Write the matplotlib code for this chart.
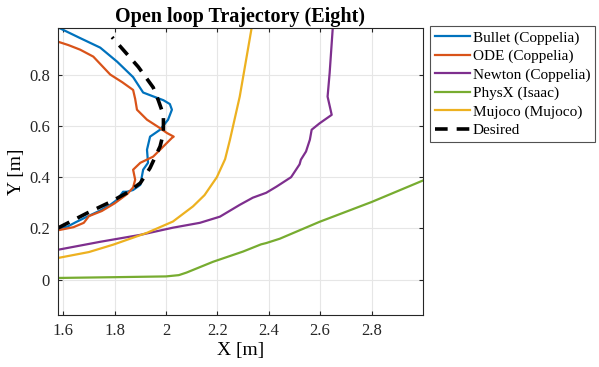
import numpy as np
import matplotlib
matplotlib.use("Agg")
import matplotlib.pyplot as plt

plt.rcParams['font.family'] = ['Liberation Serif', 'DejaVu Serif']

# Bullet (Coppelia)
bullet_x = [1.58, 1.616, 1.65, 1.693, 1.74, 1.783, 1.81, 1.833, 1.848, 1.872, 1.90, 1.911,
            1.93, 1.926, 1.938, 1.977, 2.008, 2.023, 2.015, 1.99, 1.95, 1.911, 1.872,
            1.81, 1.744, 1.66, 1.588]
bullet_y = [0.200, 0.207, 0.225, 0.246, 0.268, 0.292, 0.312, 0.343, 0.343, 0.350, 0.37, 0.429,
            0.456, 0.507, 0.558, 0.585, 0.624, 0.663, 0.685, 0.70, 0.715, 0.73, 0.79,
            0.85, 0.905, 0.945, 0.98]

# ODE (Coppelia)
ode_x = [1.58, 1.64, 1.68, 1.70, 1.75, 1.80, 1.85, 1.872, 1.88, 1.872, 1.9, 1.95, 1.99,
         2.023, 2.03, 2.004, 1.977, 1.926, 1.887, 1.88, 1.872, 1.83, 1.783, 1.717,
         1.666, 1.62, 1.58]
ode_y = [0.193, 0.205, 0.222, 0.248, 0.268, 0.298, 0.335, 0.360, 0.39, 0.429, 0.456, 0.48, 0.52,
         0.553, 0.558, 0.572, 0.591, 0.624, 0.663, 0.705, 0.74, 0.77, 0.80, 0.87,
         0.897, 0.915, 0.928]

# Newton (Coppelia)
newton_x = [1.58, 1.744, 1.9, 2.027, 2.132, 2.21, 2.287, 2.338, 2.39, 2.43, 2.487, 2.52,
            2.525, 2.545, 2.56, 2.567, 2.598, 2.645, 2.629, 2.637, 2.649]
newton_y = [0.117, 0.148, 0.175, 0.203, 0.222, 0.246, 0.292, 0.320, 0.339, 0.363, 0.40, 0.45,
            0.468, 0.50, 0.546, 0.585, 0.61, 0.643, 0.714, 0.806, 0.98]

# PhysX (Isaac)
physx_x = [1.58, 1.8, 2.0, 2.05, 2.08, 2.183, 2.3, 2.37, 2.39, 2.443, 2.598, 2.8, 2.998]
physx_y = [0.007, 0.010, 0.013, 0.018, 0.028, 0.07, 0.11, 0.138, 0.143, 0.16, 0.226, 0.303, 0.386]

# Mujoco (Mujoco)
mujoco_x = [1.58, 1.7, 1.795, 1.926, 2.027, 2.105, 2.15, 2.198, 2.23, 2.249, 2.287, 2.314, 2.333]
mujoco_y = [0.085, 0.108, 0.137, 0.183, 0.227, 0.286, 0.33, 0.40, 0.47, 0.546, 0.714, 0.87, 0.98]

# Desired
desired_x = [1.58, 1.693, 1.783, 1.85, 1.90, 1.938, 1.977, 1.99, 1.99, 1.97, 1.95, 1.892, 1.79]
desired_y = [0.202, 0.26, 0.303, 0.34, 0.377, 0.436, 0.52, 0.572, 0.643, 0.70, 0.75, 0.83, 0.946]

fig = plt.figure(figsize=(5.99, 3.67), dpi=100)
ax = fig.add_axes([0.097, 0.142, 0.609, 0.782])

ax.plot(bullet_x, bullet_y, color='#0072BD', lw=1.6, label='Bullet (Coppelia)')
ax.plot(ode_x, ode_y, color='#D95319', lw=1.6, label='ODE (Coppelia)')
ax.plot(newton_x, newton_y, color='#7E2F8E', lw=1.6, label='Newton (Coppelia)')
ax.plot(physx_x, physx_y, color='#77AC30', lw=1.6, label='PhysX (Isaac)')
ax.plot(mujoco_x, mujoco_y, color='#EDB120', lw=1.6, label='Mujoco (Mujoco)')
ax.plot(desired_x, desired_y, color='black', lw=2.6, ls=(0, (3.5, 2.5)), label='Desired')

ax.set_xlim(1.58, 3.0)
ax.set_ylim(-0.137, 0.982)
ax.set_xticks([1.6, 1.8, 2.0, 2.2, 2.4, 2.6, 2.8])
ax.set_xticklabels(['1.6', '1.8', '2', '2.2', '2.4', '2.6', '2.8'])
ax.set_yticks([0, 0.2, 0.4, 0.6, 0.8])
ax.set_yticklabels(['0', '0.2', '0.4', '0.6', '0.8'])
ax.grid(True, color='#e6e6e6', lw=0.8)
ax.set_axisbelow(True)
ax.tick_params(direction='in', top=True, right=True, labelsize=12, colors='#262626',
               length=3, pad=6)
for s in ax.spines.values():
    s.set_color('#262626')
    s.set_linewidth(0.8)

ax.set_xlabel('X [m]', fontsize=14, labelpad=2)
ax.set_ylabel('Y [m]', fontsize=14, labelpad=3)
ax.set_title('Open loop Trajectory (Eight)', fontsize=14.5, fontweight='bold', pad=4)

leg = ax.legend(loc='upper left', bbox_to_anchor=(1.02, 1.005), fontsize=11,
                frameon=True, fancybox=False, edgecolor='#262626', handlelength=2.3,
                handletextpad=0.2, borderpad=0.3, labelspacing=0.3, borderaxespad=0)
leg.get_frame().set_linewidth(0.8)

fig.savefig('out.png', dpi=100)
